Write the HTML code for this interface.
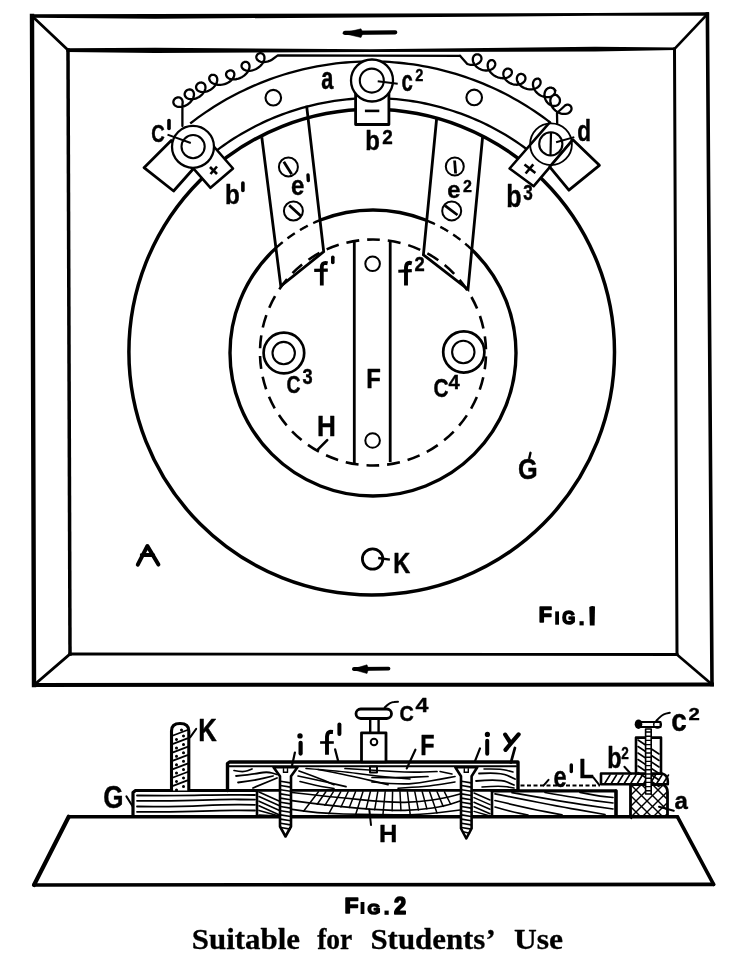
<!DOCTYPE html>
<html><head><meta charset="utf-8"><style>
html,body{margin:0;padding:0;background:#fff;}
svg{display:block;filter:grayscale(1);}
text{-webkit-font-smoothing:antialiased;}
.t{opacity:0.999;}
</style></head><body>
<svg width="749" height="957" viewBox="0 0 749 957">
<rect width="749" height="957" fill="#fff"/>
<g stroke="#000" fill="none" stroke-linecap="square">
<path d="M30.50,14.20 L155.00,14.00 L595.00,13.00 L709.00,12.20 L709.00,15.80 L595.00,15.80 L155.00,18.80 L30.50,17.80 Z" stroke-width="0" fill="#000" stroke="none"/>
<line x1="707.40" y1="14.00" x2="712.00" y2="684.50" stroke-width="3.6" />
<line x1="712.00" y1="684.50" x2="34.00" y2="685.00" stroke-width="4.0" />
<line x1="34.00" y1="685.00" x2="32.00" y2="16.00" stroke-width="4.4" />
<path d="M66.50,48.30 L155.00,47.80 L370.00,49.20 L595.00,46.80 L676.00,47.50 L676.00,50.00 L595.00,51.60 L370.00,51.90 L155.00,53.00 L66.50,51.90 Z" stroke-width="0" fill="#000" stroke="none"/>
<line x1="674.50" y1="49.00" x2="677.00" y2="654.50" stroke-width="3.0" />
<line x1="677.00" y1="654.50" x2="70.00" y2="654.00" stroke-width="2.8" />
<line x1="70.00" y1="654.00" x2="68.00" y2="50.00" stroke-width="3.5" />
<line x1="32.00" y1="16.00" x2="68.00" y2="50.00" stroke-width="2.8" />
<line x1="707.40" y1="14.00" x2="674.50" y2="49.00" stroke-width="2.6" />
<line x1="34.00" y1="685.00" x2="70.00" y2="654.00" stroke-width="2.8" />
<line x1="712.00" y1="684.50" x2="677.00" y2="654.50" stroke-width="2.6" />
</g>
<g stroke="#000" fill="#000">
<line x1="345.00" y1="32.90" x2="395.20" y2="32.30" stroke-width="4.3" stroke-linecap="round"/>
<path d="M342.50,33.20 L361.00,28.80 L363.00,33.00 L361.00,37.50 Z" stroke-width="0.5" fill="#000" />
<line x1="354.00" y1="669.00" x2="388.50" y2="668.60" stroke-width="3.8" stroke-linecap="round"/>
<path d="M352.00,669.30 L367.00,664.80 L368.50,669.00 L367.00,673.50 Z" stroke-width="0.5" fill="#000" />
</g>
<g stroke="#000" fill="none">
<circle cx="373.00" cy="353.00" r="143.00" stroke-width="3.4" fill="none" />
<path d="M261.80,137.20 L280.80,286.20 L323.70,251.70 L306.60,105.70 Z" stroke-width="0" fill="#fff" stroke="none"/>
<path d="M261.80,137.20 L280.80,286.20 L323.70,251.70 L306.60,105.70" stroke-width="2.8" fill="none" />
<path d="M436.60,119.00 L423.40,254.80 L468.00,289.30 L482.60,137.00 Z" stroke-width="0" fill="#fff" stroke="none"/>
<path d="M436.60,119.00 L423.40,254.80 L468.00,289.30 L482.60,137.00" stroke-width="2.8" fill="none" />
<path d="M275.93,247.99 L276.42,247.55 L276.90,247.10 L277.39,246.67 L277.87,246.23 L278.36,245.79 L278.86,245.36 L279.35,244.93 L279.85,244.50 L280.35,244.08 L280.85,243.65 L281.35,243.23 L281.85,242.81 L282.36,242.40 L282.86,241.98 L283.37,241.57 L283.89,241.16 L284.40,240.76 L284.91,240.35 L285.43,239.95 L285.95,239.55 L286.47,239.15 L286.99,238.76 L287.52,238.36 L288.04,237.97 L288.57,237.58 L289.10,237.20 L289.63,236.82 L290.17,236.43 L290.70,236.06 L291.24,235.68 L291.78,235.31 L292.32,234.94 L292.86,234.57 L293.40,234.20 L293.95,233.84 L294.49,233.48 L295.04,233.12 L295.59,232.76 L296.14,232.41 L296.70,232.06 L297.25,231.71 L297.81,231.37 L298.36,231.02 L298.92,230.68 L299.49,230.34 L300.05,230.01 L300.61,229.67 L301.18,229.34 L301.75,229.02 L302.31,228.69 L302.88,228.37 L303.46,228.05 L304.03,227.73 L304.60,227.42 L305.18,227.11 L305.76,226.80 L306.34,226.49 L306.92,226.19 L307.50,225.88 L308.08,225.58 L308.67,225.29 L309.25,225.00 L309.84,224.70 L310.43,224.42 L311.02,224.13 L311.61,223.85 L312.20,223.57 L312.79,223.29 L313.39,223.02 L313.99,222.75 L314.58,222.48 L315.18,222.21 L315.78,221.95 L316.38,221.69 L316.98,221.43 L317.59,221.17 L318.19,220.92 L318.80,220.67 L319.40,220.42 L320.01,220.18" stroke-width="2.4" fill="none" stroke-dasharray="9 6"/>
<path d="M426.74,220.48 L427.37,220.74 L427.99,221.00 L428.61,221.26 L429.24,221.52 L429.86,221.79 L430.47,222.06 L431.09,222.33 L431.71,222.61 L432.32,222.88 L432.93,223.17 L433.55,223.45 L434.16,223.74 L434.77,224.03 L435.37,224.32 L435.98,224.62 L436.59,224.91 L437.19,225.22 L437.79,225.52 L438.39,225.83 L438.99,226.14 L439.59,226.45 L440.19,226.77 L440.78,227.08 L441.38,227.41 L441.97,227.73 L442.56,228.06 L443.15,228.39 L443.73,228.72 L444.32,229.05 L444.90,229.39 L445.49,229.73 L446.07,230.08 L446.65,230.42 L447.22,230.77 L447.80,231.12 L448.37,231.48 L448.95,231.83 L449.52,232.19 L450.09,232.56 L450.65,232.92 L451.22,233.29 L451.78,233.66 L452.35,234.03 L452.91,234.41 L453.46,234.79 L454.02,235.17 L454.58,235.55 L455.13,235.94 L455.68,236.33 L456.23,236.72 L456.78,237.11 L457.32,237.51 L457.87,237.91 L458.41,238.31 L458.95,238.71 L459.49,239.12 L460.03,239.53 L460.56,239.94 L461.09,240.36 L461.62,240.77 L462.15,241.19 L462.68,241.61 L463.20,242.04 L463.73,242.47 L464.25,242.90 L464.77,243.33 L465.28,243.76 L465.80,244.20 L466.31,244.64 L466.82,245.08 L467.33,245.52 L467.83,245.97 L468.34,246.42 L468.84,246.87 L469.34,247.32 L469.84,247.78 L470.33,248.24 L470.82,248.70 L471.32,249.16 L471.80,249.62" stroke-width="2.4" fill="none" stroke-dasharray="9 6"/>
<circle cx="373.00" cy="352.50" r="113.00" stroke-width="2.6" fill="none" stroke-dasharray="12.9 7.98" stroke-dashoffset="-4.01"/>
<circle cx="371.70" cy="352.10" r="242.80" stroke-width="3.5" fill="none" />
<path d="M190.19,123.52 L194.03,120.58 L197.92,117.69 L201.86,114.88 L205.84,112.13 L209.87,109.44 L213.94,106.82 L218.06,104.27 L222.21,101.79 L226.41,99.37 L230.64,97.03 L234.91,94.75 L239.22,92.55 L243.57,90.42 L247.95,88.35 L252.36,86.37 L256.81,84.45 L261.28,82.61 L265.79,80.84 L270.32,79.14 L274.89,77.53 L279.47,75.98 L284.09,74.51 L288.72,73.12 L293.38,71.81 L298.06,70.57 L302.76,69.41 L307.48,68.32 L312.21,67.32 L316.97,66.39 L321.73,65.54 L326.51,64.77 L331.30,64.08 L336.10,63.47 L340.91,62.93 L345.73,62.48 L350.56,62.10 L355.39,61.81 L360.23,61.59 L365.07,61.46 L369.91,61.40 L374.75,61.43 L379.59,61.53 L384.42,61.71 L389.26,61.97 L394.09,62.32 L398.91,62.74 L403.72,63.24 L408.53,63.82 L413.32,64.48 L418.11,65.22 L422.88,66.03 L427.64,66.93 L432.38,67.90 L437.10,68.95 L441.81,70.08 L446.50,71.29 L451.17,72.57 L455.81,73.93 L460.43,75.37 L465.03,76.88 L469.61,78.47 L474.15,80.13 L478.67,81.87 L483.16,83.68 L487.62,85.57 L492.04,87.53 L496.44,89.56 L500.80,91.66 L505.12,93.84 L509.41,96.08 L513.66,98.40 L517.87,100.79 L522.04,103.24 L526.17,105.77 L530.26,108.36 L534.31,111.02 L538.31,113.74 L542.27,116.53 L546.17,119.38 L550.04,122.30" stroke-width="2.3" fill="none" />
<path d="M217.16,150.13 L220.49,147.66 L223.86,145.25 L227.26,142.89 L230.71,140.58 L234.19,138.33 L237.71,136.14 L241.26,134.00 L244.84,131.92 L248.46,129.90 L252.11,127.94 L255.80,126.03 L259.51,124.18 L263.25,122.40 L267.02,120.67 L270.81,119.01 L274.64,117.41 L278.49,115.86 L282.36,114.38 L286.25,112.97 L290.17,111.61 L294.11,110.32 L298.07,109.09 L302.05,107.93 L306.04,106.83 L310.06,105.79 L314.09,104.82 L318.13,103.91 L322.19,103.07 L326.26,102.29 L330.35,101.58 L334.44,100.94 L338.55,100.36 L342.66,99.84 L346.78,99.39 L350.91,99.01 L355.04,98.70 L359.18,98.45 L363.32,98.27 L367.47,98.15 L371.61,98.10 L375.76,98.12 L379.90,98.20 L384.04,98.35 L388.18,98.57 L392.32,98.85 L396.45,99.20 L400.57,99.62 L404.69,100.10 L408.80,100.65 L412.90,101.26 L416.99,101.94 L421.07,102.69 L425.13,103.50 L429.18,104.38 L433.22,105.32 L437.24,106.32 L441.25,107.39 L445.24,108.53 L449.20,109.73 L453.15,110.99 L457.08,112.31 L460.99,113.70 L464.87,115.15 L468.73,116.66 L472.57,118.24 L476.37,119.87 L480.16,121.57 L483.91,123.33 L487.64,125.14 L491.33,127.02 L495.00,128.96 L498.63,130.95 L502.24,133.00 L505.80,135.11 L509.34,137.28 L512.84,139.50 L516.30,141.78 L519.72,144.12 L523.11,146.51 L526.46,148.95" stroke-width="2.3" fill="none" />
</g>
<g stroke="#000" fill="none">
<path d="M182.40,126.00 L182.40,111.50 L182.48,104.02 L182.64,103.04 L182.67,102.10 L182.58,101.22 L182.38,100.40 L182.07,99.67 L181.67,99.03 L181.18,98.48 L180.62,98.04 L180.00,97.70 L179.33,97.48 L178.64,97.38 L177.93,97.38 L177.22,97.49 L176.53,97.71 L175.87,98.02 L175.27,98.43 L174.72,98.91 L174.25,99.46 L173.87,100.07 L173.59,100.73 L173.42,101.41 L173.36,102.11 L173.41,102.81 L173.60,103.50 L173.90,104.16 L174.33,104.77 L174.87,105.33 L175.53,105.83 L176.29,106.24 L177.16,106.57 L178.10,106.79 L179.13,106.92 L180.21,106.93 L181.34,106.84 L182.50,106.63 L183.68,106.31 L184.86,105.88 L186.02,105.35 L187.15,104.72 L188.23,103.99 L189.25,103.19 L190.20,102.31 L191.06,101.38 L191.82,100.40 L192.47,99.39 L193.02,98.37 L193.44,97.34 L193.74,96.32 L193.91,95.33 L193.97,94.39 L193.91,93.49 L193.73,92.66 L193.44,91.91 L193.06,91.25 L192.59,90.68 L192.04,90.22 L191.43,89.86 L190.77,89.62 L190.08,89.49 L189.37,89.47 L188.66,89.56 L187.97,89.76 L187.30,90.05 L186.99,90.23 L186.40,90.67 L185.87,91.18 L185.42,91.76 L185.07,92.40 L184.82,93.07 L184.69,93.76 L184.67,94.47 L184.77,95.18 L185.00,95.86 L185.35,96.52 L185.82,97.13 L186.42,97.68 L187.12,98.16 L187.93,98.56 L188.84,98.88 L189.83,99.09 L190.88,99.20 L192.00,99.21 L193.16,99.10 L194.34,98.88 L195.53,98.55 L196.72,98.12 L197.88,97.58 L199.01,96.95 L200.08,96.24 L201.08,95.44 L202.00,94.58 L202.83,93.67 L203.56,92.72 L204.18,91.73 L204.68,90.74 L205.06,89.75 L205.31,88.77 L205.44,87.83 L205.45,86.93 L205.34,86.08 L205.11,85.30 L204.78,84.61 L204.35,84.00 L203.84,83.49 L203.26,83.08 L202.62,82.78 L201.93,82.59 L201.22,82.51 L200.50,82.54 L199.78,82.68 L199.08,82.91 L198.42,83.25 L197.72,83.75 L197.21,84.25 L196.78,84.82 L196.44,85.44 L196.21,86.09 L196.08,86.78 L196.08,87.47 L196.19,88.16 L196.43,88.84 L196.80,89.48 L197.28,90.07 L197.88,90.61 L198.60,91.08 L199.42,91.47 L200.33,91.76 L201.33,91.96 L202.40,92.06 L203.52,92.04 L204.69,91.92 L205.88,91.68 L207.09,91.33 L208.29,90.88 L209.46,90.32 L210.60,89.67 L211.69,88.93 L212.71,88.11 L213.65,87.23 L214.50,86.29 L215.24,85.32 L215.88,84.31 L216.40,83.29 L216.80,82.28 L217.08,81.28 L217.23,80.31 L217.26,79.38 L217.17,78.51 L216.97,77.72 L216.66,77.00 L216.26,76.37 L215.77,75.83 L215.21,75.41 L214.59,75.09 L213.93,74.88 L213.24,74.78 L212.54,74.79 L211.84,74.91 L211.16,75.13 L210.52,75.45 L211.72,74.91 L211.14,75.18 L210.60,75.54 L210.14,75.99 L209.76,76.50 L209.47,77.08 L209.29,77.71 L209.22,78.37 L209.27,79.07 L209.45,79.77 L209.76,80.48 L210.20,81.17 L210.77,81.84 L211.47,82.46 L212.28,83.03 L213.21,83.54 L214.24,83.97 L215.37,84.32 L216.57,84.59 L217.83,84.75 L219.15,84.82 L220.49,84.78 L221.86,84.64 L223.22,84.40 L224.56,84.05 L225.87,83.61 L227.13,83.08 L228.33,82.47 L229.44,81.78 L230.46,81.03 L231.37,80.23 L232.18,79.39 L232.86,78.52 L233.41,77.63 L233.84,76.75 L234.13,75.88 L234.30,75.03 L234.34,74.22 L234.26,73.47 L234.06,72.77 L233.76,72.15 L233.37,71.61 L232.90,71.16 L232.36,70.81 L231.77,70.56 L231.15,70.40 L230.51,70.36 L229.87,70.41 L227.80,71.23 L227.29,71.63 L226.85,72.11 L226.50,72.64 L226.25,73.23 L226.10,73.86 L226.06,74.51 L226.15,75.18 L226.35,75.83 L226.69,76.47 L227.14,77.08 L227.73,77.64 L228.43,78.15 L229.24,78.58 L230.15,78.94 L231.16,79.20 L232.26,79.37 L233.42,79.44 L234.64,79.40 L235.89,79.25 L237.17,78.99 L238.46,78.62 L239.74,78.15 L241.00,77.57 L242.22,76.91 L243.37,76.15 L244.46,75.32 L245.47,74.43 L246.38,73.49 L247.19,72.50 L247.89,71.49 L248.46,70.47 L248.92,69.45 L249.24,68.44 L249.45,67.47 L249.52,66.54 L249.48,65.67 L249.33,64.87 L249.07,64.14 L248.72,63.51 L248.28,62.97 L247.77,62.53 L247.21,62.20 L246.60,61.98 L245.97,61.86 L245.33,61.86 L244.69,61.96 L244.08,62.16 L243.39,62.53 L242.86,62.94 L242.41,63.41 L242.04,63.96 L241.77,64.55 L241.60,65.18 L241.54,65.84 L241.60,66.50 L241.79,67.17 L242.09,67.81 L242.53,68.43 L243.08,68.99 L243.76,69.50 L244.55,69.94 L245.44,70.30 L246.42,70.57 L247.49,70.74 L248.63,70.81 L249.82,70.77 L251.06,70.62 L252.32,70.36 L253.59,70.00 L254.85,69.52 L256.08,68.95 L257.28,68.28 L258.43,67.52 L259.50,66.69 L260.49,65.80 L261.39,64.85 L262.19,63.86 L262.87,62.84 L263.43,61.81 L263.88,60.79 L264.20,59.78 L264.39,58.80 L264.46,57.87 L264.41,56.99 L264.25,56.18 L263.98,55.46 L263.62,54.82 L263.17,54.27 L262.65,53.83 L262.08,53.50 L261.46,53.27 L260.82,53.16 L260.16,53.16 L259.52,53.26 L258.89,53.46 L258.30,53.76 L257.77,54.15 L257.30,54.61 L256.91,55.14 L256.62,55.72 L256.42,56.35 L256.34,57.00 L256.38,57.67 L256.54,58.33 L256.82,58.98 L257.23,59.60 L257.76,60.18 L258.41,60.70 L259.18,61.16 L260.05,61.53 L261.02,61.82 L262.07,62.01 L263.19,62.10 L264.38,62.09 L265.60,61.96 L266.86,61.73 L268.13,61.38 L269.39,60.93 L270.63,60.37 L271.84,59.72 L277.80,55.30 L460.00,55.80" stroke-width="2.3" fill="none" stroke-linejoin="round" stroke-linecap="round"/>
<path d="M460.00,55.80 L467.06,63.82 L468.28,64.26 L469.53,64.59 L470.79,64.81 L472.04,64.91 L473.26,64.90 L474.45,64.78 L475.58,64.56 L476.65,64.23 L477.63,63.81 L478.51,63.31 L479.30,62.73 L479.96,62.09 L480.51,61.40 L480.94,60.67 L481.24,59.93 L481.41,59.18 L481.46,58.43 L481.39,57.71 L481.21,57.03 L480.91,56.39 L480.53,55.82 L480.05,55.33 L479.51,54.92 L478.90,54.60 L478.25,54.39 L477.58,54.28 L476.90,54.29 L476.22,54.40 L475.56,54.63 L474.94,54.97 L474.38,55.42 L473.88,55.97 L473.46,56.62 L473.14,57.35 L472.92,58.15 L472.81,59.02 L472.83,59.94 L472.96,60.89 L473.22,61.87 L473.61,62.85 L474.12,63.83 L474.76,64.79 L475.50,65.71 L476.36,66.58 L477.31,67.39 L478.35,68.13 L479.47,68.78 L480.64,69.33 L481.85,69.79 L483.10,70.14 L484.36,70.38 L485.61,70.50 L486.84,70.51 L488.04,70.41 L489.18,70.21 L490.26,69.90 L491.25,69.49 L492.16,69.00 L492.96,68.44 L493.65,67.81 L494.22,67.13 L494.67,66.41 L495.00,65.66 L495.19,64.91 L495.26,64.17 L495.21,63.44 L495.05,62.75 L494.77,62.10 L494.40,61.52 L493.94,61.01 L493.41,60.58 L492.81,60.25 L492.81,60.26 L492.23,60.11 L491.62,60.07 L491.01,60.14 L490.41,60.33 L489.83,60.63 L489.29,61.04 L488.81,61.57 L488.40,62.19 L488.07,62.91 L487.83,63.71 L487.70,64.60 L487.68,65.54 L487.78,66.54 L488.00,67.57 L488.35,68.62 L488.82,69.68 L489.42,70.74 L490.13,71.77 L490.96,72.77 L491.89,73.71 L492.92,74.60 L494.02,75.40 L495.20,76.13 L496.44,76.75 L497.72,77.28 L499.02,77.69 L500.33,78.00 L501.64,78.19 L502.92,78.26 L504.16,78.22 L505.35,78.08 L506.47,77.83 L507.51,77.48 L508.46,77.05 L509.30,76.54 L510.03,75.96 L510.65,75.34 L511.14,74.67 L511.50,73.99 L511.75,73.29 L511.86,72.60 L511.86,71.93 L511.75,71.29 L511.53,70.71 L511.21,70.18 L510.81,69.73 L510.34,69.37 L509.16,68.84 L508.48,68.69 L507.79,68.65 L507.09,68.73 L506.41,68.92 L505.77,69.21 L505.17,69.62 L504.64,70.13 L504.18,70.74 L503.81,71.44 L503.54,72.21 L503.38,73.05 L503.34,73.95 L503.42,74.88 L503.63,75.85 L503.96,76.83 L504.42,77.80 L505.00,78.76 L505.70,79.69 L506.51,80.57 L507.42,81.40 L508.41,82.15 L509.49,82.82 L510.63,83.41 L511.82,83.89 L513.05,84.27 L514.29,84.54 L515.54,84.69 L516.77,84.74 L517.96,84.67 L519.11,84.49 L520.20,84.21 L521.22,83.83 L522.14,83.36 L522.97,82.81 L523.68,82.20 L524.28,81.53 L524.76,80.81 L525.12,80.07 L525.34,79.31 L525.44,78.56 L525.42,77.82 L525.28,77.10 L525.03,76.44 L524.68,75.83 L524.24,75.29 L523.71,74.82 L523.12,74.45 L521.82,73.98 L521.18,73.90 L520.52,73.93 L519.88,74.07 L519.26,74.32 L518.68,74.68 L518.16,75.14 L517.71,75.70 L517.34,76.35 L517.08,77.08 L516.92,77.88 L516.87,78.74 L516.94,79.64 L517.14,80.57 L517.47,81.52 L517.93,82.47 L518.51,83.40 L519.21,84.31 L520.03,85.18 L520.95,85.99 L521.97,86.74 L523.07,87.40 L524.24,87.98 L525.47,88.47 L526.75,88.85 L528.04,89.13 L529.35,89.29 L530.65,89.35 L531.92,89.29 L533.16,89.12 L534.34,88.85 L535.44,88.48 L536.47,88.02 L537.40,87.48 L538.22,86.87 L538.93,86.20 L539.52,85.49 L539.98,84.74 L540.31,83.98 L540.52,83.21 L540.61,82.45 L540.57,81.73 L540.41,81.04 L540.15,80.40 L539.79,79.83 L539.35,79.34 L538.83,78.93 L538.26,78.62 L539.50,79.22 L538.92,78.93 L538.30,78.74 L537.64,78.65 L536.98,78.68 L536.32,78.82 L535.68,79.08 L535.07,79.46 L534.52,79.95 L534.03,80.54 L533.62,81.24 L533.29,82.02 L533.07,82.89 L532.96,83.83 L532.96,84.82 L533.08,85.86 L533.32,86.93 L533.69,88.01 L534.18,89.09 L534.79,90.15 L535.51,91.19 L536.34,92.17 L537.26,93.10 L538.27,93.96 L539.35,94.73 L540.50,95.41 L541.69,95.99 L542.90,96.46 L544.14,96.82 L545.37,97.07 L546.58,97.19 L547.76,97.21 L548.88,97.11 L549.95,96.90 L550.94,96.59 L551.84,96.19 L552.64,95.71 L553.33,95.15 L553.91,94.54 L554.37,93.88 L554.71,93.20 L554.92,92.49 L555.01,91.79 L554.98,91.10 L554.84,90.45 L554.59,89.83 L554.24,89.28 L553.80,88.79 L555.41,90.70 L554.97,90.00 L554.44,89.37 L553.83,88.82 L553.16,88.36 L552.43,88.01 L551.67,87.76 L550.88,87.64 L550.07,87.63 L549.28,87.75 L548.50,87.99 L547.75,88.36 L547.05,88.85 L546.42,89.45 L545.86,90.15 L545.38,90.96 L544.99,91.84 L544.71,92.80 L544.53,93.82 L544.47,94.89 L544.51,95.98 L544.68,97.08 L544.96,98.18 L545.35,99.26 L545.84,100.31 L546.43,101.30 L547.11,102.23 L547.87,103.08 L548.69,103.83 L549.57,104.49 L550.49,105.04 L551.44,105.47 L552.40,105.77 L553.36,105.96 L554.30,106.01 L555.20,105.95 L556.06,105.76 L556.86,105.46 L557.59,105.06 L558.24,104.55 L558.79,103.96 L559.24,103.30 L559.58,102.57 L559.82,101.81 L559.93,101.01 L559.94,100.19 L559.83,99.38 L559.61,98.59 L559.28,97.83 L557.06,95.38 L556.47,95.10 L555.82,94.91 L555.16,94.84 L554.48,94.89 L553.80,95.05 L553.15,95.32 L552.53,95.72 L551.97,96.22 L551.47,96.84 L551.04,97.56 L550.71,98.37 L550.47,99.26 L550.34,100.22 L550.33,101.24 L550.44,102.30 L550.67,103.39 L551.02,104.50 L551.49,105.60 L552.07,106.69 L552.77,107.75 L553.58,108.76 L554.48,109.71 L555.46,110.59 L556.51,111.38 L557.62,112.08 L558.78,112.68 L559.97,113.17 L561.16,113.55 L562.36,113.80 L563.53,113.94 L564.67,113.97 L565.76,113.88 L566.79,113.68 L567.74,113.38 L568.60,112.98 L569.37,112.51 L570.02,111.96 L570.56,111.35 L570.99,110.70 L571.29,110.01 L571.47,109.31 L571.53,108.61 L571.47,107.93 L571.30,107.28 L571.02,106.67 L570.65,106.12 L570.20,105.64 L569.67,105.24 L569.08,104.94 L568.44,104.74 L567.78,104.65 L567.10,104.67 L566.43,104.81 L565.77,105.06 L565.14,105.44 L564.57,105.92 L564.05,106.52 L557.00,113.00 L557.20,123.50" stroke-width="2.3" fill="none" stroke-linejoin="round" stroke-linecap="round"/>
</g>
<g stroke="#000" fill="#fff" stroke-linejoin="round">
<path d="M233.00,168.50 L210.50,187.80 L174.60,147.10 L197.20,127.50 Z" stroke-width="2.6" fill="#fff" />
<path d="M192.90,169.30 L173.60,191.00 L144.00,167.70 L171.25,140.50 Z" stroke-width="2.8" fill="#fff" />
<path d="M509.60,168.50 L533.70,186.20 L572.70,140.20 L550.60,121.40 Z" stroke-width="0" fill="#fff" stroke="none"/>
<path d="M550.60,121.40 L509.60,168.50 L533.70,186.20 L572.70,140.20" stroke-width="2.6" fill="none" />
<path d="M549.70,166.90 L568.90,190.20 L599.40,165.30 L572.90,139.70 Z" stroke-width="2.8" fill="#fff" />
<path d="M355.60,92.00 L355.60,124.50 L388.90,124.50 L388.90,92.00 Z" stroke-width="2.8" fill="#fff" />
</g>
<g stroke="#000" stroke-width="2.2">
<line x1="364.90" y1="110.90" x2="379.30" y2="110.90" stroke-width="2.6" />
<line x1="210.00" y1="167.00" x2="217.00" y2="174.00" stroke-width="2.6" />
<line x1="217.00" y1="166.50" x2="210.50" y2="174.00" stroke-width="2.6" />
<line x1="524.50" y1="164.40" x2="535.40" y2="173.00" stroke-width="2.6" />
<line x1="533.30" y1="164.40" x2="525.60" y2="173.50" stroke-width="2.6" />
</g>
<g stroke="#000">
<circle cx="193.00" cy="146.80" r="21.00" stroke-width="2.3" fill="#fff" />
<circle cx="193.10" cy="146.60" r="11.60" stroke-width="2.1" fill="#fff" />
<circle cx="372.00" cy="80.50" r="21.00" stroke-width="2.3" fill="#fff" />
<circle cx="371.80" cy="80.60" r="12.00" stroke-width="2.1" fill="#fff" />
<circle cx="551.00" cy="144.20" r="20.90" stroke-width="1.8" fill="none" />
<circle cx="550.80" cy="143.90" r="11.60" stroke-width="2.1" fill="#fff" />
<circle cx="283.90" cy="353.00" r="20.30" stroke-width="2.7" fill="#fff" />
<circle cx="283.70" cy="353.10" r="11.20" stroke-width="2.1" fill="#fff" />
<circle cx="463.80" cy="352.00" r="20.60" stroke-width="2.7" fill="#fff" />
<circle cx="463.30" cy="352.00" r="11.20" stroke-width="2.1" fill="#fff" />
<line x1="167.50" y1="134.60" x2="190.80" y2="143.00" stroke-width="2.0" />
<line x1="377.70" y1="81.20" x2="397.70" y2="83.70" stroke-width="2.0" />
<line x1="556.10" y1="142.20" x2="574.30" y2="137.10" stroke-width="2.0" />
<line x1="551.00" y1="132.00" x2="550.50" y2="155.80" stroke-width="2.2" />
</g>
<g stroke="#000" fill="none">
<circle cx="273.30" cy="97.70" r="7.80" stroke-width="2.1" fill="none" />
<circle cx="474.20" cy="97.40" r="7.80" stroke-width="2.1" fill="none" />
<circle cx="372.60" cy="263.80" r="7.30" stroke-width="2.0" fill="none" />
<circle cx="372.60" cy="440.50" r="7.30" stroke-width="2.0" fill="none" />
<circle cx="372.60" cy="559.00" r="10.20" stroke-width="2.8" fill="none" />
<line x1="378.20" y1="558.00" x2="389.90" y2="559.60" stroke-width="2.4" />
</g>
<g stroke="#000">
<line x1="354.30" y1="241.30" x2="354.30" y2="463.50" stroke-width="2.8" />
<line x1="390.20" y1="241.30" x2="390.20" y2="462.00" stroke-width="2.8" />
</g>
<g stroke="#000" fill="none">
<circle cx="288.40" cy="166.90" r="9.50" stroke-width="2.0" fill="none" />
<line x1="283.80" y1="161.70" x2="291.70" y2="174.20" stroke-width="2.8" />
<circle cx="293.40" cy="211.00" r="9.50" stroke-width="2.0" fill="none" />
<line x1="289.20" y1="205.20" x2="300.90" y2="216.10" stroke-width="2.8" />
<circle cx="454.80" cy="166.50" r="9.00" stroke-width="2.0" fill="none" />
<line x1="454.60" y1="160.50" x2="455.60" y2="173.50" stroke-width="2.8" />
<circle cx="451.70" cy="210.90" r="9.50" stroke-width="2.0" fill="none" />
<line x1="445.00" y1="205.60" x2="457.50" y2="215.00" stroke-width="2.8" />
</g>
<g fill="#000">
<text class="t" transform="matrix(0.2175 0 0 0.3055 321.20 89.49)" font-family='"Liberation Sans", sans-serif' font-weight="bold" font-size="100" stroke="#000" stroke-width="1.53" stroke-linejoin="round">a</text>
<text class="t" transform="matrix(0.2036 0 0 0.2945 401.40 91.41)" font-family='"Liberation Sans", sans-serif' font-weight="bold" font-size="100" stroke="#000" stroke-width="1.61" stroke-linejoin="round">c</text>
<text class="t" transform="matrix(0.1464 0 0 0.1700 415.30 81.00)" font-family='"Liberation Sans", sans-serif' font-weight="bold" font-size="100" stroke="#000" stroke-width="2.53" stroke-linejoin="round">2</text>
<text class="t" transform="matrix(0.2393 0 0 0.2685 365.20 149.53)" font-family='"Liberation Sans", sans-serif' font-weight="bold" font-size="100" stroke="#000" stroke-width="1.58" stroke-linejoin="round">b</text>
<text class="t" transform="matrix(0.1893 0 0 0.2086 382.20 143.50)" font-family='"Liberation Sans", sans-serif' font-weight="bold" font-size="100" stroke="#000" stroke-width="2.01" stroke-linejoin="round">2</text>
<text class="t" transform="matrix(0.1875 0 0 0.2324 151.20 142.47)" font-family='"Liberation Sans", sans-serif' font-weight="bold" font-size="100" stroke="#000" stroke-width="1.91" stroke-linejoin="round">C</text>
<text class="t" transform="matrix(0.2426 0 0 0.2808 225.10 204.32)" font-family='"Liberation Sans", sans-serif' font-weight="bold" font-size="100" stroke="#000" stroke-width="1.53" stroke-linejoin="round">b</text>
<text class="t" transform="matrix(0.2262 0 0 0.2986 577.20 140.50)" font-family='"Liberation Sans", sans-serif' font-weight="bold" font-size="100" stroke="#000" stroke-width="1.52" stroke-linejoin="round">d</text>
<text class="t" transform="matrix(0.2508 0 0 0.3192 506.20 207.18)" font-family='"Liberation Sans", sans-serif' font-weight="bold" font-size="100" stroke="#000" stroke-width="1.40" stroke-linejoin="round">b</text>
<text class="t" transform="matrix(0.1714 0 0 0.2155 523.20 200.28)" font-family='"Liberation Sans", sans-serif' font-weight="bold" font-size="100" stroke="#000" stroke-width="2.07" stroke-linejoin="round">3</text>
<text class="t" transform="matrix(0.2393 0 0 0.2745 291.10 195.13)" font-family='"Liberation Sans", sans-serif' font-weight="bold" font-size="100" stroke="#000" stroke-width="1.56" stroke-linejoin="round">e</text>
<text class="t" transform="matrix(0.2375 0 0 0.2400 447.20 197.86)" font-family='"Liberation Sans", sans-serif' font-weight="bold" font-size="100" stroke="#000" stroke-width="1.68" stroke-linejoin="round">e</text>
<text class="t" transform="matrix(0.1607 0 0 0.1586 463.00 191.80)" font-family='"Liberation Sans", sans-serif' font-weight="bold" font-size="100" stroke="#000" stroke-width="2.51" stroke-linejoin="round">2</text>
<text class="t" transform="matrix(0.1839 0 0 0.2071 414.40 270.70)" font-family='"Liberation Sans", sans-serif' font-weight="bold" font-size="100" stroke="#000" stroke-width="2.05" stroke-linejoin="round">2</text>
<text class="t" transform="matrix(0.2393 0 0 0.2855 366.20 387.70)" font-family='"Liberation Sans", sans-serif' font-weight="bold" font-size="100" stroke="#000" stroke-width="1.52" stroke-linejoin="round">F</text>
<text class="t" transform="matrix(0.1944 0 0 0.2352 286.50 393.26)" font-family='"Liberation Sans", sans-serif' font-weight="bold" font-size="100" stroke="#000" stroke-width="1.86" stroke-linejoin="round">C</text>
<text class="t" transform="matrix(0.1821 0 0 0.2197 302.60 384.18)" font-family='"Liberation Sans", sans-serif' font-weight="bold" font-size="100" stroke="#000" stroke-width="1.99" stroke-linejoin="round">3</text>
<text class="t" transform="matrix(0.2083 0 0 0.2507 433.60 397.05)" font-family='"Liberation Sans", sans-serif' font-weight="bold" font-size="100" stroke="#000" stroke-width="1.74" stroke-linejoin="round">C</text>
<text class="t" transform="matrix(0.2018 0 0 0.1942 448.50 389.20)" font-family='"Liberation Sans", sans-serif' font-weight="bold" font-size="100" stroke="#000" stroke-width="2.02" stroke-linejoin="round">4</text>
<text class="t" transform="matrix(0.2611 0 0 0.2971 317.00 435.50)" font-family='"Liberation Sans", sans-serif' font-weight="bold" font-size="100" stroke="#000" stroke-width="1.43" stroke-linejoin="round">H</text>
<text class="t" transform="matrix(0.2526 0 0 0.3042 518.00 478.50)" font-family='"Liberation Sans", sans-serif' font-weight="bold" font-size="100" stroke="#000" stroke-width="1.44" stroke-linejoin="round">G</text>
<text class="t" transform="matrix(0.2347 0 0 0.2971 393.20 572.70)" font-family='"Liberation Sans", sans-serif' font-weight="bold" font-size="100" stroke="#000" stroke-width="1.50" stroke-linejoin="round">K</text>
<text class="t" transform="matrix(0.2148 0 0 0.2188 538.80 621.90)" font-family='"Liberation Sans", sans-serif' font-weight="bold" font-size="100" stroke="#000" stroke-width="7.38" stroke-linejoin="round">F</text>
<rect x="555.2" y="611.4" width="3.8" height="13.3"/>
<text class="t" transform="matrix(0.1667 0 0 0.1746 562.20 624.43)" font-family='"Liberation Sans", sans-serif' font-weight="bold" font-size="100" stroke="#000" stroke-width="9.38" stroke-linejoin="round">G</text>
<rect x="579.5" y="621.2" width="4.2" height="4.2"/>
<path d="M589.3,607 Q592,605.5 595,606.5 L594.6,625.4 L589.8,625.4 Z"/>
</g>
<g stroke="#000" stroke-linecap="round">
<line x1="169.00" y1="120.50" x2="169.00" y2="128.50" stroke-width="3.6" />
<line x1="242.90" y1="183.00" x2="242.90" y2="190.50" stroke-width="3.6" />
<line x1="308.00" y1="175.00" x2="308.30" y2="180.50" stroke-width="3.4" />
<line x1="332.80" y1="257.30" x2="332.80" y2="262.50" stroke-width="3.6" />
<path d="M321.8,285.4 L321.8,266.5 Q322,262.9 325.5,262.8 L327.6,263.3" stroke-width="3.8" fill="none" stroke-linecap="butt"/>
<path d="M314.2,270.4 L327.8,270.1" stroke-width="3.1" fill="none" stroke-linecap="butt"/>
<path d="M406,285.4 L406,267 Q406.4,262.9 409.6,262.8 L411.8,263.4" stroke-width="3.9" fill="none" stroke-linecap="butt"/>
<path d="M398.3,271.2 L411.8,270.6" stroke-width="3.1" fill="none" stroke-linecap="butt"/>
<line x1="327.20" y1="440.20" x2="317.50" y2="449.80" stroke-width="2.6" />
<path d="M137.8,564.6 L147.4,546 L158.4,564.6 M141.8,555 L153.2,555" stroke-width="4" fill="none" stroke-linejoin="round" stroke-linecap="round"/>
<line x1="530.50" y1="452.80" x2="529.30" y2="458.00" stroke-width="2.4" />
</g>
<g stroke="#000" fill="none" stroke-linecap="round" stroke-linejoin="round">
<line x1="68.70" y1="816.80" x2="677.50" y2="816.80" stroke-width="3.4" />
<line x1="68.70" y1="816.80" x2="34.00" y2="885.00" stroke-width="4.2" />
<line x1="34.00" y1="885.00" x2="713.60" y2="884.40" stroke-width="3.6" />
<line x1="677.50" y1="816.80" x2="713.60" y2="884.40" stroke-width="3.6" />
<path d="M133.00,816.50 L133.00,792.50 L135.50,790.50 L257.00,790.50" stroke-width="3.2" fill="none" />
<path d="M137.0,795.5 Q180.0,795.8 202.5,795.2 Q225.0,794.7 240.0,794.9 L255.0,795.0" stroke-width="1.8" fill="none" />
<path d="M137.0,800.8 Q180.0,801.1 202.5,800.2 Q225.0,799.3 240.0,799.5 L255.0,799.6" stroke-width="1.8" fill="none" />
<path d="M137.0,806.5 Q180.0,806.8 202.5,805.6 Q225.0,804.5 240.0,804.6 L255.0,804.8" stroke-width="1.8" fill="none" />
<path d="M137.0,811.8 Q180.0,812.1 202.5,811.1 Q225.0,810.2 240.0,810.4 L255.0,810.5" stroke-width="1.8" fill="none" />
<path d="M492.00,790.80 L616.00,790.80 L616.00,816.50" stroke-width="3.2" fill="none" />
<path d="M495.0,793.8 Q550.0,804.9 577.5,809.7 L605.0,814.5" stroke-width="1.7" fill="none" />
<path d="M512.0,792.6 Q562.5,801.6 587.8,805.3 L613.0,809.0" stroke-width="1.7" fill="none" />
<path d="M545.0,792.5 Q579.0,798.5 596.0,800.8 L613.0,803.0" stroke-width="1.7" fill="none" />
<path d="M580.0,792.4 Q596.5,795.8 604.8,796.6 L613.0,797.5" stroke-width="1.7" fill="none" />
<path d="M495.0,800.5 Q528.5,808.4 545.2,811.6 L562.0,814.8" stroke-width="1.7" fill="none" />
<path d="M495.0,807.0 Q511.5,811.8 519.8,813.4 L528.0,815.0" stroke-width="1.7" fill="none" />
<line x1="257.00" y1="791.00" x2="257.00" y2="816.50" stroke-width="2.6" />
<line x1="492.00" y1="791.00" x2="492.00" y2="816.50" stroke-width="2.6" />
<line x1="259.00" y1="792.00" x2="279.00" y2="801.00" stroke-width="1.6" />
<line x1="259.00" y1="796.60" x2="279.00" y2="805.60" stroke-width="1.6" />
<line x1="259.00" y1="801.20" x2="279.00" y2="810.20" stroke-width="1.6" />
<line x1="259.00" y1="805.80" x2="279.00" y2="814.80" stroke-width="1.6" />
<line x1="259.00" y1="810.40" x2="279.00" y2="816.00" stroke-width="1.6" />
<line x1="259.00" y1="815.00" x2="279.00" y2="816.00" stroke-width="1.6" />
<path d="M292.0,792.5 Q330.0,796.7 360.0,799.7 Q390.0,802.7 405.0,802.4 Q420.0,802.0 432.5,800.0 Q445.0,798.0 452.5,796.0 L460.0,794.0" stroke-width="1.7" fill="none" />
<path d="M292.0,800.7 Q330.0,806.0 360.0,808.4 Q390.0,810.7 405.0,810.4 Q420.0,810.0 432.5,808.0 Q445.0,806.0 452.5,803.5 L460.0,801.0" stroke-width="1.7" fill="none" />
<path d="M292.0,809.4 Q317.0,813.4 343.5,814.0 Q370.0,814.5 395.0,814.8 Q420.0,815.0 440.0,812.5 L460.0,810.0" stroke-width="1.7" fill="none" />
<line x1="318.47" y1="791.80" x2="303.54" y2="811.30" stroke-width="1.5" />
<line x1="325.88" y1="791.80" x2="317.20" y2="804.25" stroke-width="1.5" />
<line x1="333.29" y1="791.80" x2="324.90" y2="805.30" stroke-width="1.5" />
<line x1="340.71" y1="791.80" x2="328.83" y2="813.70" stroke-width="1.5" />
<line x1="348.12" y1="791.80" x2="340.98" y2="806.95" stroke-width="1.5" />
<line x1="355.53" y1="791.80" x2="349.29" y2="807.55" stroke-width="1.5" />
<line x1="362.94" y1="791.80" x2="355.74" y2="814.30" stroke-width="1.5" />
<line x1="370.35" y1="791.80" x2="366.12" y2="808.90" stroke-width="1.5" />
<line x1="377.76" y1="791.80" x2="374.68" y2="809.65" stroke-width="1.5" />
<line x1="385.17" y1="791.80" x2="382.92" y2="814.75" stroke-width="1.5" />
<line x1="392.58" y1="791.80" x2="392.13" y2="810.70" stroke-width="1.5" />
<line x1="399.99" y1="791.80" x2="400.93" y2="810.55" stroke-width="1.5" />
<line x1="407.41" y1="791.80" x2="410.28" y2="815.05" stroke-width="1.5" />
<line x1="414.82" y1="791.80" x2="418.45" y2="810.10" stroke-width="1.5" />
<line x1="422.23" y1="791.80" x2="426.90" y2="808.90" stroke-width="1.5" />
<line x1="429.64" y1="791.80" x2="436.96" y2="812.95" stroke-width="1.5" />
<line x1="437.05" y1="791.80" x2="443.20" y2="806.35" stroke-width="1.5" />
<line x1="444.46" y1="791.80" x2="450.67" y2="804.25" stroke-width="1.5" />
<line x1="474.00" y1="793.00" x2="490.00" y2="800.00" stroke-width="1.5" />
<line x1="474.00" y1="797.60" x2="490.00" y2="804.60" stroke-width="1.5" />
<line x1="474.00" y1="802.20" x2="490.00" y2="809.20" stroke-width="1.5" />
<line x1="474.00" y1="806.80" x2="490.00" y2="813.80" stroke-width="1.5" />
<line x1="474.00" y1="811.40" x2="490.00" y2="816.00" stroke-width="1.5" />
<rect x="227.5" y="762" width="290.5" height="28.5" fill="#fff" stroke="none"/>
<path d="M227.50,790.50 L227.50,763.50 L229.50,762.00 L518.00,762.00 L518.00,790.50" stroke-width="3.4" fill="none" />
<line x1="229.00" y1="766.20" x2="516.00" y2="766.20" stroke-width="2.0" />
<line x1="227.50" y1="790.30" x2="518.00" y2="790.30" stroke-width="2.8" />
<path d="M234.0,770.5 Q243.0,772.5 247.5,770.8 L252.0,769.0" stroke-width="1.7" fill="none" />
<path d="M236.0,776.0 Q252.0,774.5 259.5,773.0 Q267.0,771.5 272.0,773.0 L277.0,774.5" stroke-width="1.8" fill="none" />
<path d="M238.0,782.5 Q255.0,780.5 264.0,778.2 L273.0,776.0" stroke-width="1.8" fill="none" />
<path d="M253.0,788.0 Q265.0,783.0 271.0,780.5 L277.0,778.0" stroke-width="1.8" fill="none" />
<path d="M299.0,771.0 Q316.0,777.0 325.0,780.9 L334.0,784.7" stroke-width="1.7" fill="none" />
<path d="M298.0,776.0 Q322.0,781.0 334.0,783.9 L346.0,786.7" stroke-width="1.7" fill="none" />
<path d="M300.0,781.5 Q318.0,786.0 326.0,787.2 L334.0,788.5" stroke-width="1.6" fill="none" />
<path d="M318.0,769.5 Q352.0,776.0 370.0,780.4 L388.0,784.7" stroke-width="1.7" fill="none" />
<path d="M306.0,768.5 Q340.0,771.0 357.5,773.5 Q375.0,776.0 392.5,777.5 L410.0,779.0" stroke-width="1.6" fill="none" />
<path d="M345.0,768.5 Q378.0,770.5 394.0,771.5 Q410.0,772.5 423.5,772.0 L437.0,771.5" stroke-width="1.7" fill="none" />
<path d="M372.0,777.5 Q400.0,777.8 414.0,777.1 L428.0,776.5" stroke-width="1.7" fill="none" />
<path d="M372.0,782.0 Q398.0,784.5 409.0,783.8 Q420.0,783.0 430.0,781.0 Q440.0,779.0 447.5,777.8 L455.0,776.5" stroke-width="1.7" fill="none" />
<path d="M398.0,788.2 Q428.0,786.5 441.5,784.2 L455.0,782.0" stroke-width="1.6" fill="none" />
<path d="M440.00,771.50 L452.00,774.00" stroke-width="1.5" fill="none" />
<path d="M479.0,773.5 Q500.0,772.0 507.5,775.5 L515.0,779.0" stroke-width="1.8" fill="none" />
<path d="M476.0,781.0 Q500.0,779.0 507.0,782.0 L514.0,785.0" stroke-width="1.8" fill="none" />
<path d="M482.0,787.0 Q500.0,785.5 507.0,786.8 L514.0,788.0" stroke-width="1.6" fill="none" />
<path d="M484.0,769.0 Q500.0,768.5 506.5,770.2 L513.0,772.0" stroke-width="1.5" fill="none" />
<g stroke="#000" fill="#fff">
<path d="M273.50,767.30 L297.50,767.30 L291.00,776.30 L291.00,826.50 L285.50,836.50 L280.00,826.50 L280.00,776.30 Z" stroke-width="2.6" fill="#fff" />
</g>
<line x1="280.50" y1="781.30" x2="290.50" y2="782.90" stroke-width="1.6" />
<line x1="280.50" y1="785.50" x2="290.50" y2="787.10" stroke-width="1.6" />
<line x1="280.50" y1="789.70" x2="290.50" y2="791.30" stroke-width="1.6" />
<line x1="280.50" y1="793.90" x2="290.50" y2="795.50" stroke-width="1.6" />
<line x1="280.50" y1="798.10" x2="290.50" y2="799.70" stroke-width="1.6" />
<line x1="280.50" y1="802.30" x2="290.50" y2="803.90" stroke-width="1.6" />
<line x1="280.50" y1="806.50" x2="290.50" y2="808.10" stroke-width="1.6" />
<line x1="280.50" y1="810.70" x2="290.50" y2="812.30" stroke-width="1.6" />
<line x1="280.50" y1="814.90" x2="290.50" y2="816.50" stroke-width="1.6" />
<line x1="280.50" y1="819.10" x2="290.50" y2="820.70" stroke-width="1.6" />
<line x1="280.50" y1="823.30" x2="290.50" y2="824.90" stroke-width="1.6" />
<line x1="281.05" y1="827.50" x2="289.95" y2="829.10" stroke-width="1.6" />
<line x1="283.50" y1="768.80" x2="283.50" y2="772.30" stroke-width="1.4" />
<line x1="287.50" y1="768.80" x2="287.50" y2="772.30" stroke-width="1.4" />
<line x1="283.50" y1="772.30" x2="287.50" y2="772.30" stroke-width="1.4" />
<g stroke="#000" fill="#fff">
<path d="M455.30,767.30 L477.30,767.30 L471.60,776.30 L471.60,828.50 L466.30,838.50 L461.00,828.50 L461.00,776.30 Z" stroke-width="2.6" fill="#fff" />
</g>
<line x1="461.50" y1="781.30" x2="471.10" y2="782.90" stroke-width="1.6" />
<line x1="461.50" y1="785.50" x2="471.10" y2="787.10" stroke-width="1.6" />
<line x1="461.50" y1="789.70" x2="471.10" y2="791.30" stroke-width="1.6" />
<line x1="461.50" y1="793.90" x2="471.10" y2="795.50" stroke-width="1.6" />
<line x1="461.50" y1="798.10" x2="471.10" y2="799.70" stroke-width="1.6" />
<line x1="461.50" y1="802.30" x2="471.10" y2="803.90" stroke-width="1.6" />
<line x1="461.50" y1="806.50" x2="471.10" y2="808.10" stroke-width="1.6" />
<line x1="461.50" y1="810.70" x2="471.10" y2="812.30" stroke-width="1.6" />
<line x1="461.50" y1="814.90" x2="471.10" y2="816.50" stroke-width="1.6" />
<line x1="461.50" y1="819.10" x2="471.10" y2="820.70" stroke-width="1.6" />
<line x1="461.50" y1="823.30" x2="471.10" y2="824.90" stroke-width="1.6" />
<line x1="461.50" y1="827.50" x2="471.10" y2="829.10" stroke-width="1.6" />
<line x1="463.20" y1="831.70" x2="469.40" y2="833.30" stroke-width="1.6" />
<line x1="464.30" y1="768.80" x2="464.30" y2="772.30" stroke-width="1.4" />
<line x1="468.30" y1="768.80" x2="468.30" y2="772.30" stroke-width="1.4" />
<line x1="464.30" y1="772.30" x2="468.30" y2="772.30" stroke-width="1.4" />
<path d="M171.5,790.5 L171.5,731 Q171.5,723.5 180,723.5 Q188.8,723.5 188.8,731 L188.8,790.5" stroke-width="3.1" fill="#fff"/>
<line x1="173.00" y1="735.50" x2="187.50" y2="730.00" stroke-width="1.8" />
<line x1="173.00" y1="743.90" x2="187.50" y2="738.40" stroke-width="1.8" />
<line x1="173.00" y1="752.30" x2="187.50" y2="746.80" stroke-width="1.8" />
<line x1="173.00" y1="760.70" x2="187.50" y2="755.20" stroke-width="1.8" />
<line x1="173.00" y1="769.10" x2="187.50" y2="763.60" stroke-width="1.8" />
<line x1="173.00" y1="777.50" x2="187.50" y2="772.00" stroke-width="1.8" />
<line x1="173.00" y1="785.90" x2="187.50" y2="780.40" stroke-width="1.8" />
<circle cx="176.50" cy="739.50" r="0.90" stroke-width="1.2" fill="#000" />
<circle cx="183.50" cy="736.00" r="0.90" stroke-width="1.2" fill="#000" />
<circle cx="176.50" cy="747.90" r="0.90" stroke-width="1.2" fill="#000" />
<circle cx="183.50" cy="744.40" r="0.90" stroke-width="1.2" fill="#000" />
<circle cx="176.50" cy="756.30" r="0.90" stroke-width="1.2" fill="#000" />
<circle cx="183.50" cy="752.80" r="0.90" stroke-width="1.2" fill="#000" />
<circle cx="176.50" cy="764.70" r="0.90" stroke-width="1.2" fill="#000" />
<circle cx="183.50" cy="761.20" r="0.90" stroke-width="1.2" fill="#000" />
<circle cx="176.50" cy="773.10" r="0.90" stroke-width="1.2" fill="#000" />
<circle cx="183.50" cy="769.60" r="0.90" stroke-width="1.2" fill="#000" />
<circle cx="176.50" cy="781.50" r="0.90" stroke-width="1.2" fill="#000" />
<circle cx="183.50" cy="778.00" r="0.90" stroke-width="1.2" fill="#000" />
<circle cx="176.50" cy="789.90" r="0.90" stroke-width="1.2" fill="#000" />
<circle cx="183.50" cy="786.40" r="0.90" stroke-width="1.2" fill="#000" />
<circle cx="181.50" cy="730.00" r="0.90" stroke-width="1.2" fill="#000" />
<line x1="190.10" y1="737.30" x2="196.20" y2="728.80" stroke-width="2.0" />
<line x1="126.40" y1="796.40" x2="132.40" y2="806.00" stroke-width="2.0" />
<rect x="356" y="709" width="35.5" height="9.5" rx="4.7" stroke-width="2.8" fill="#fff"/>
<line x1="370.20" y1="719.00" x2="370.20" y2="732.50" stroke-width="2.4" />
<line x1="378.60" y1="719.00" x2="378.60" y2="732.50" stroke-width="2.4" />
<rect x="361.5" y="732.8" width="24.5" height="29" stroke-width="2.8" fill="#fff"/>
<circle cx="374.00" cy="742.00" r="3.30" stroke-width="2.0" fill="none" />
<rect x="370" y="766.5" width="7" height="6" stroke-width="2.0" fill="none"/>
<path d="M384.7,707.5 Q390.0,702.0 394.0,701.9 L398.0,701.7" stroke-width="2.0" fill="none" />
<line x1="294.90" y1="752.50" x2="291.90" y2="766.30" stroke-width="2.2" />
<line x1="335.10" y1="749.40" x2="338.10" y2="760.90" stroke-width="2.2" />
<line x1="415.40" y1="749.70" x2="406.80" y2="768.40" stroke-width="2.2" />
<line x1="480.00" y1="748.40" x2="474.80" y2="761.70" stroke-width="2.2" />
<line x1="514.90" y1="748.00" x2="510.90" y2="762.50" stroke-width="2.8" />
<line x1="369.30" y1="809.50" x2="371.00" y2="825.00" stroke-width="2.0" />
<line x1="520.50" y1="785.50" x2="600.00" y2="785.50" stroke-width="1.8" stroke-dasharray="4 2.5" stroke-linecap="butt"/>
<line x1="548.50" y1="779.80" x2="543.70" y2="785.40" stroke-width="2.0" />
<line x1="593.30" y1="777.40" x2="599.00" y2="784.60" stroke-width="2.0" />
<path d="M630.5,815 L630.5,784.5 L662,784.5 Q667.5,786 667.5,792 L667.5,815" stroke-width="2.8" fill="#fff"/>
<line x1="631.50" y1="818.50" x2="629.00" y2="816.00" stroke-width="1.5" />
<line x1="631.50" y1="807.50" x2="640.00" y2="816.00" stroke-width="1.5" />
<line x1="631.50" y1="796.50" x2="651.00" y2="816.00" stroke-width="1.5" />
<line x1="632.00" y1="786.00" x2="662.00" y2="816.00" stroke-width="1.5" />
<line x1="643.00" y1="786.00" x2="666.50" y2="809.50" stroke-width="1.5" />
<line x1="654.00" y1="786.00" x2="666.50" y2="798.50" stroke-width="1.5" />
<line x1="665.00" y1="786.00" x2="666.50" y2="787.50" stroke-width="1.5" />
<line x1="640.00" y1="786.00" x2="631.50" y2="794.50" stroke-width="1.5" />
<line x1="651.00" y1="786.00" x2="631.50" y2="805.50" stroke-width="1.5" />
<line x1="662.00" y1="786.00" x2="632.00" y2="816.00" stroke-width="1.5" />
<line x1="666.50" y1="792.50" x2="643.00" y2="816.00" stroke-width="1.5" />
<line x1="666.50" y1="803.50" x2="654.00" y2="816.00" stroke-width="1.5" />
<line x1="666.50" y1="814.50" x2="665.00" y2="816.00" stroke-width="1.5" />
<path d="M601,784.3 L601,773.5 L662,773.5 Q667.5,775 667.8,781 L667.8,784.3 Z" stroke-width="2.6" fill="#fff"/>
<line x1="605.00" y1="783.00" x2="610.00" y2="775.00" stroke-width="1.6" />
<line x1="611.50" y1="783.00" x2="616.50" y2="775.00" stroke-width="1.6" />
<line x1="618.00" y1="783.00" x2="623.00" y2="775.00" stroke-width="1.6" />
<line x1="624.50" y1="783.00" x2="629.50" y2="775.00" stroke-width="1.6" />
<line x1="631.00" y1="783.00" x2="636.00" y2="775.00" stroke-width="1.6" />
<line x1="637.50" y1="783.00" x2="642.50" y2="775.00" stroke-width="1.6" />
<line x1="644.00" y1="783.00" x2="649.00" y2="775.00" stroke-width="1.6" />
<line x1="650.50" y1="783.00" x2="655.50" y2="775.00" stroke-width="1.6" />
<line x1="657.00" y1="783.00" x2="662.00" y2="775.00" stroke-width="1.6" />
<line x1="663.50" y1="783.00" x2="668.50" y2="775.00" stroke-width="1.6" />
<rect x="636" y="737.6" width="25" height="36" stroke-width="2.6" fill="#fff"/>
<line x1="638.00" y1="740.00" x2="659.00" y2="754.00" stroke-width="1.6" />
<line x1="638.00" y1="746.50" x2="659.00" y2="760.50" stroke-width="1.6" />
<line x1="638.00" y1="753.00" x2="659.00" y2="767.00" stroke-width="1.6" />
<line x1="638.00" y1="759.50" x2="659.00" y2="773.50" stroke-width="1.6" />
<line x1="638.00" y1="766.00" x2="659.00" y2="780.00" stroke-width="1.6" />
<line x1="638.00" y1="772.50" x2="659.00" y2="786.50" stroke-width="1.6" />
<rect x="645.6" y="729" width="5.6" height="65" stroke-width="1.6" fill="#fff"/>
<line x1="646.20" y1="732.00" x2="650.60" y2="732.00" stroke-width="1.4" />
<line x1="646.20" y1="736.20" x2="650.60" y2="736.20" stroke-width="1.4" />
<line x1="646.20" y1="740.40" x2="650.60" y2="740.40" stroke-width="1.4" />
<line x1="646.20" y1="744.60" x2="650.60" y2="744.60" stroke-width="1.4" />
<line x1="646.20" y1="748.80" x2="650.60" y2="748.80" stroke-width="1.4" />
<line x1="646.20" y1="753.00" x2="650.60" y2="753.00" stroke-width="1.4" />
<line x1="646.20" y1="757.20" x2="650.60" y2="757.20" stroke-width="1.4" />
<line x1="646.20" y1="761.40" x2="650.60" y2="761.40" stroke-width="1.4" />
<line x1="646.20" y1="765.60" x2="650.60" y2="765.60" stroke-width="1.4" />
<line x1="646.20" y1="769.80" x2="650.60" y2="769.80" stroke-width="1.4" />
<line x1="646.20" y1="774.00" x2="650.60" y2="774.00" stroke-width="1.4" />
<line x1="646.20" y1="778.20" x2="650.60" y2="778.20" stroke-width="1.4" />
<line x1="646.20" y1="782.40" x2="650.60" y2="782.40" stroke-width="1.4" />
<line x1="646.20" y1="786.60" x2="650.60" y2="786.60" stroke-width="1.4" />
<line x1="646.20" y1="790.80" x2="650.60" y2="790.80" stroke-width="1.4" />
<rect x="640" y="722" width="20.5" height="5" stroke-width="2" fill="#fff"/>
<ellipse cx="638.5" cy="724.2" rx="3.8" ry="4.8" fill="#000" stroke="none"/>
<ellipse cx="657.5" cy="724.6" rx="3.8" ry="3.4" stroke-width="1.5" fill="none"/>
<path d="M656.4,720.7 Q662.0,714.5 665.9,713.6 L669.8,712.7" stroke-width="2.0" fill="none" />
<line x1="624.40" y1="766.80" x2="631.00" y2="774.00" stroke-width="2.0" />
<line x1="659.00" y1="806.80" x2="673.80" y2="810.80" stroke-width="2.0" />
<line x1="616.00" y1="790.80" x2="616.00" y2="816.50" stroke-width="3.0" />
</g>
<g fill="#000">
<text class="t" transform="matrix(0.2556 0 0 0.3217 198.30 741.30)" font-family='"Liberation Sans", sans-serif' font-weight="bold" font-size="100" stroke="#000" stroke-width="1.39" stroke-linejoin="round">K</text>
<text class="t" transform="matrix(0.2603 0 0 0.3141 103.20 808.19)" font-family='"Liberation Sans", sans-serif' font-weight="bold" font-size="100" stroke="#000" stroke-width="1.39" stroke-linejoin="round">G</text>
<text class="t" transform="matrix(0.1986 0 0 0.2268 399.60 720.57)" font-family='"Liberation Sans", sans-serif' font-weight="bold" font-size="100" stroke="#000" stroke-width="1.88" stroke-linejoin="round">C</text>
<text class="t" transform="matrix(0.2321 0 0 0.1957 415.60 712.20)" font-family='"Liberation Sans", sans-serif' font-weight="bold" font-size="100" stroke="#000" stroke-width="1.87" stroke-linejoin="round">4</text>
<text class="t" transform="matrix(0.2344 0 0 0.2942 420.30 754.90)" font-family='"Liberation Sans", sans-serif' font-weight="bold" font-size="100" stroke="#000" stroke-width="1.51" stroke-linejoin="round">F</text>
<text class="t" transform="matrix(0.2357 0 0 0.2982 553.50 786.50)" font-family='"Liberation Sans", sans-serif' font-weight="bold" font-size="100" stroke="#000" stroke-width="1.50" stroke-linejoin="round">e</text>
<text class="t" transform="matrix(0.2426 0 0 0.2725 579.10 778.00)" font-family='"Liberation Sans", sans-serif' font-weight="bold" font-size="100" stroke="#000" stroke-width="1.55" stroke-linejoin="round">L</text>
<text class="t" transform="matrix(0.2344 0 0 0.2877 607.20 768.31)" font-family='"Liberation Sans", sans-serif' font-weight="bold" font-size="100" stroke="#000" stroke-width="1.53" stroke-linejoin="round">b</text>
<text class="t" transform="matrix(0.1357 0 0 0.1557 621.20 758.50)" font-family='"Liberation Sans", sans-serif' font-weight="bold" font-size="100" stroke="#000" stroke-width="2.75" stroke-linejoin="round">2</text>
<text class="t" transform="matrix(0.2786 0 0 0.3200 671.30 731.48)" font-family='"Liberation Sans", sans-serif' font-weight="bold" font-size="100" stroke="#000" stroke-width="1.34" stroke-linejoin="round">c</text>
<text class="t" transform="matrix(0.2036 0 0 0.1629 688.40 719.80)" font-family='"Liberation Sans", sans-serif' font-weight="bold" font-size="100" stroke="#000" stroke-width="2.18" stroke-linejoin="round">2</text>
<text class="t" transform="matrix(0.2404 0 0 0.2473 674.60 809.05)" font-family='"Liberation Sans", sans-serif' font-weight="bold" font-size="100" stroke="#000" stroke-width="1.64" stroke-linejoin="round">a</text>
<text class="t" transform="matrix(0.2542 0 0 0.2464 379.10 842.00)" font-family='"Liberation Sans", sans-serif' font-weight="bold" font-size="100" stroke="#000" stroke-width="1.60" stroke-linejoin="round">H</text>
<text class="t" transform="matrix(0.2295 0 0 0.2290 344.60 913.20)" font-family='"Liberation Sans", sans-serif' font-weight="bold" font-size="100" stroke="#000" stroke-width="6.98" stroke-linejoin="round">F</text>
<rect x="360.6" y="902" width="3.8" height="12"/>
<text class="t" transform="matrix(0.1641 0 0 0.1549 367.50 913.65)" font-family='"Liberation Sans", sans-serif' font-weight="bold" font-size="100" stroke="#000" stroke-width="10.03" stroke-linejoin="round">G</text>
<text class="t" transform="matrix(0.2179 0 0 0.2343 393.90 913.80)" font-family='"Liberation Sans", sans-serif' font-weight="bold" font-size="100" stroke="#000" stroke-width="7.08" stroke-linejoin="round">2</text>
<rect x="384.5" y="910.6" width="4.2" height="4.2" />
</g>
<g stroke="#000" stroke-linecap="round">
<line x1="339.40" y1="724.50" x2="339.40" y2="734.00" stroke-width="4.0" />
<path d="M327,754.7 L327,736.5 Q327.3,732.2 330.3,731.8 L333,732" stroke-width="3.9" fill="none" stroke-linecap="butt"/>
<path d="M320.1,742.5 L333.8,742.5" stroke-width="2.6" fill="none" stroke-linecap="butt"/>
<line x1="300.60" y1="742.80" x2="300.60" y2="753.60" stroke-width="4.2" />
<path d="M505.2,734.6 L510.6,743 M518.6,734.4 L505.5,749.8" stroke-width="4.2" fill="none" stroke-linecap="round"/>
<line x1="487.20" y1="740.80" x2="487.20" y2="753.70" stroke-width="4.0" />
<circle cx="300" cy="735.9" r="2.7" fill="#000" stroke="none"/>
<circle cx="487.4" cy="734.4" r="2.6" fill="#000" stroke="none"/>
<line x1="571.30" y1="765.00" x2="571.30" y2="771.50" stroke-width="3.4" />
</g>
<g fill="#000">
<text class="t" transform="matrix(0.3091 0 0 0.2887 191.85 949.36)" font-family='"Liberation Serif", serif' font-weight="bold" font-size="100" stroke="#000" stroke-width="1.00" stroke-linejoin="round">Suitable</text>
<text class="t" transform="matrix(0.2750 0 0 0.2887 317.15 949.36)" font-family='"Liberation Serif", serif' font-weight="bold" font-size="100" stroke="#000" stroke-width="1.06" stroke-linejoin="round">for</text>
<text class="t" transform="matrix(0.3089 0 0 0.2900 370.45 949.36)" font-family='"Liberation Serif", serif' font-weight="bold" font-size="100" stroke="#000" stroke-width="1.00" stroke-linejoin="round">Students’</text>
<text class="t" transform="matrix(0.3160 0 0 0.2909 513.95 949.36)" font-family='"Liberation Serif", serif' font-weight="bold" font-size="100" stroke="#000" stroke-width="0.99" stroke-linejoin="round">Use</text>
</g>
</svg>
</body></html>
